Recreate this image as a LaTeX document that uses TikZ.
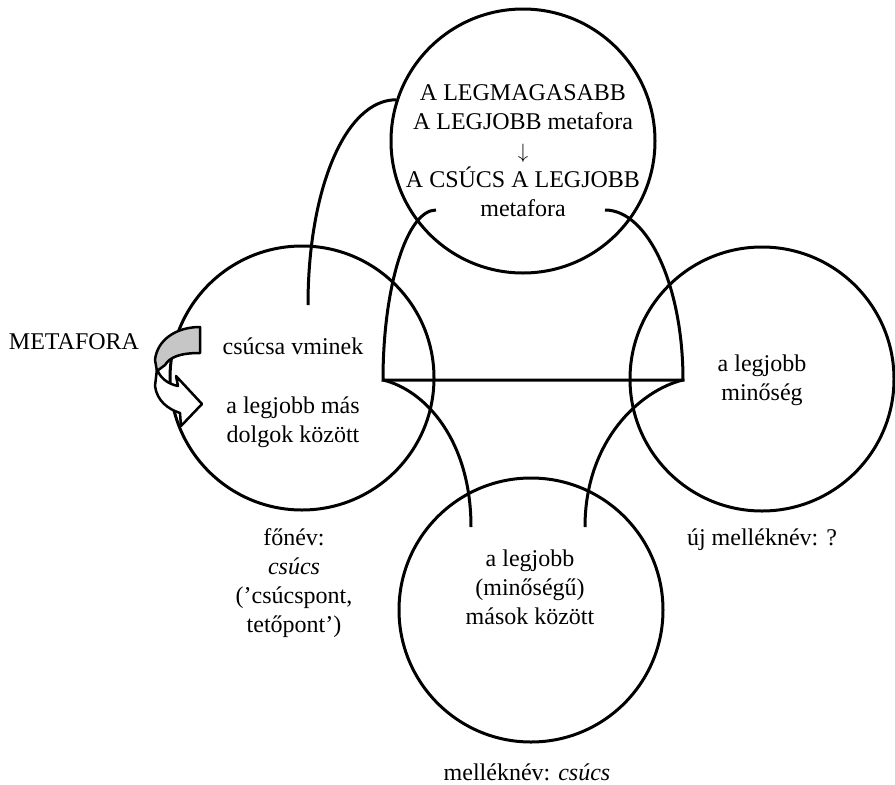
\documentclass[tikz,border=0pt]{standalone}
\usepackage{fontspec}
\setmainfont{Liberation Serif}
\newcommand{\diagFont}[0]{\fontsize{24}{29}\selectfont}

\begin{document}
\begin{tikzpicture}[x=1pt, y=-1pt, line width=3pt]
  \tikzset{every node/.style={inner sep=0pt, font=\diagFont, align=center},
    ring/.style={draw, circle, minimum size=264pt},
    ribbon/.style={draw, line width=2.5pt, line join=round}}
  \useasboundingbox (0,0) rectangle (895,785);
  % the four circles
  \node[ring] (top) at (523,141) {};
  \node[ring] (left) at (302,378) {};
  \node[ring] (right) at (762,379) {};
  \node[ring] (bottom) at (531,610) {};
  % texts
  \node (metafora) at (74,342) {METAFORA};
  \node (topText) at (523,151) {A LEGMAGASABB\\A LEGJOBB metafora\\
    {\fontsize{20}{20}\selectfont$\downarrow$}\\A CSÚCS A LEGJOBB\\metafora};
  \node (csucsa) at (293,346) {csúcsa vminek};
  \node (legjobbMas) at (293,422) {a legjobb más\\dolgok között};
  \node (minoseg) at (762,380) {a legjobb\\minőség};
  \node (ujMellek) at (762,540) {új melléknév: ?};
  \node (masok) at (530,587) {a legjobb\\(minőségű)\\mások között};
  \node (mellek) at (527,772) {melléknév: \textit{csúcs}};
  \node (fonev) at (294,583) {főnév:\\\textit{csúcs}\\(’csúcspont,\\tetőpont’)};
  % dome and its legs
  \coordinate (domeL) at (383,380);
  \coordinate (domeR) at (683,380);
  \draw (436,210) .. controls (407,210) and (383,286) .. (domeL) -- (domeR)
    .. controls (683,286) and (648,210) .. (605,210);
  \draw (domeL) .. controls (425,390) and (471,440) .. (471,527);
  \draw (domeR) .. controls (641,390) and (585,440) .. (585,527);
  % link from the noun to the top circle
  \coordinate (vminek) at (308,305);
  \draw (vminek) .. controls (308,190) and (345,100) .. (top.162);
  % metaphor arrow
  \draw[ribbon, fill=gray!45] (200,327) .. controls (176,327) and (157,340) .. (155,360)
    -- (157,371) -- (165,365) .. controls (170,357) and (180,353) .. (200,353) -- cycle;
  \draw[ribbon, fill=white] (157,369) .. controls (160,378) and (168,384) .. (178,386)
    -- (176,376) -- (202,404) -- (181,426) -- (180,413)
    .. controls (168,409) and (157,401) .. (155,386) -- cycle;
\end{tikzpicture}
\end{document}
